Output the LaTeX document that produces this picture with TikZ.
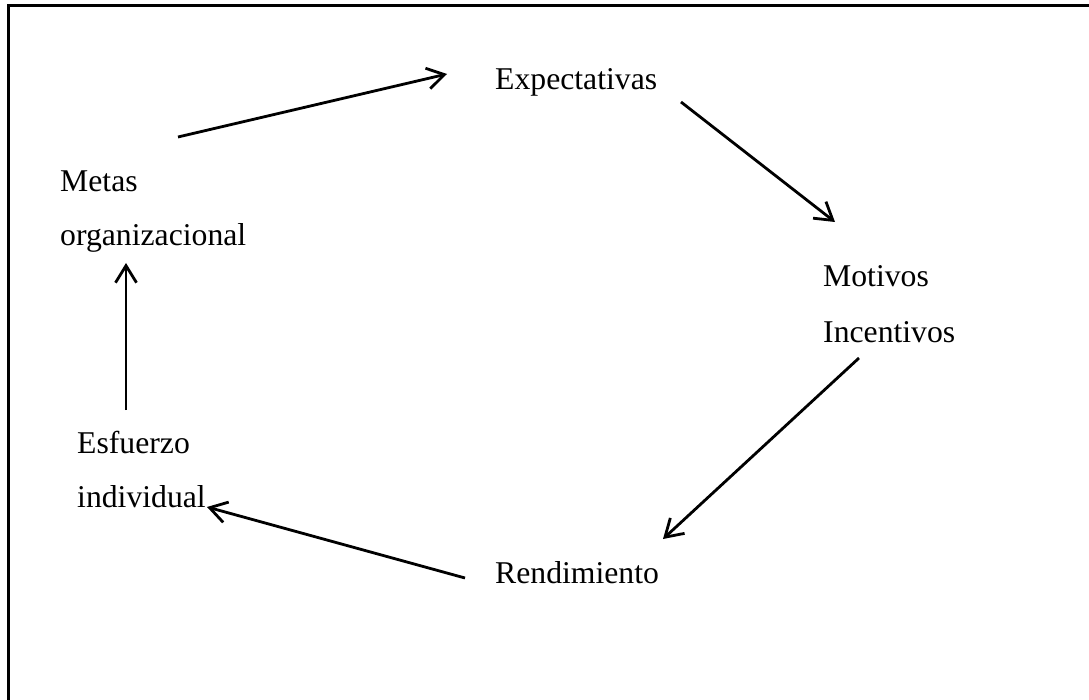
\documentclass[tikz,border=0pt]{standalone}
\usepackage{fontspec}
\setmainfont{Liberation Serif}
\usetikzlibrary{arrows.meta}
\begin{document}
\begin{tikzpicture}[x=1pt,y=-1pt,
  label/.style={anchor=base west,inner sep=0pt,font=\fontsize{31.7}{38}\selectfont},
  flow/.style={line width=2.8pt,-{Straight Barb[length=17pt,width=21pt,line width=2.8pt]}},
  frame/.style={line width=3pt}]
\useasboundingbox (0,0) rectangle (1089,700);
% frame edges
\draw[frame] (8,700) -- (8,6) -- (1089,6);
% labels
\node[label] (exp)  at (495,90)  {Expectativas};
\node[label] (mot)  at (823,287) {Motivos};
\node[label] (inc)  at (823,342) {Incentivos};
\node[label] (rend) at (495,583) {Rendimiento};
\node[label] (esf)  at (77,453)  {Esfuerzo};
\node[label] (ind)  at (77,507)  {individual};
\node[label] (met)  at (60,192)  {Metas};
\node[label] (org)  at (60,246)  {organizacional};
% cycle arrows
\draw[flow] ([shift={(118,-55)}]met.base west) -- ([shift={(-48,-16)}]exp.base west);
\draw[flow] ([shift={(186,12)}]exp.base west) -- ([shift={(12,-65)}]mot.base west);
\draw[flow] ([shift={(36,16)}]inc.base west) -- ([shift={(168,-44)}]rend.base west);
\draw[flow] ([shift={(-30,-5)}]rend.base west) -- ([shift={(130,0)}]ind.base west);
\draw[flow] ([shift={(49,-43)}]esf.base west) -- ([shift={(66,17)}]org.base west);
\end{tikzpicture}
\end{document}
